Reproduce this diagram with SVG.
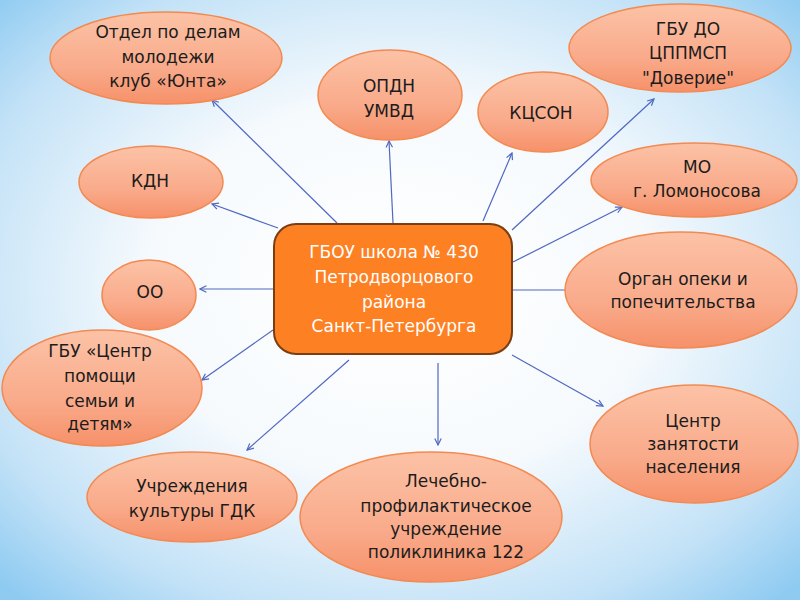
<svg xmlns="http://www.w3.org/2000/svg" width="800" height="600" viewBox="0 0 800 600">
<defs>
<radialGradient id="bg" cx="50%" cy="48%" r="70%">
<stop offset="0" stop-color="#ffffff"/>
<stop offset="0.45" stop-color="#f6fafd"/>
<stop offset="0.8" stop-color="#c3e2f7"/>
<stop offset="1" stop-color="#8fcbf1"/>
</radialGradient>
<linearGradient id="el" x1="0" y1="0" x2="0" y2="1">
<stop offset="0" stop-color="#fcc2a6"/>
<stop offset="0.6" stop-color="#f9ab8b"/>
<stop offset="1" stop-color="#f6916a"/>
</linearGradient>
<marker id="arr" viewBox="0 0 10 10" refX="9" refY="5" markerWidth="8" markerHeight="8" markerUnits="userSpaceOnUse" orient="auto">
<path d="M1,1 L9,5 L1,9" fill="none" stroke="#5068c0" stroke-width="1.5"/>
</marker>
</defs>
<style>
.node ellipse{fill:url(#el);stroke:#f28a52;stroke-width:1.5}
.node text{font-family:"DejaVu Sans","Liberation Sans",sans-serif;font-size:17px;fill:#1c1c1c;text-anchor:middle}
.conn line{stroke:#5068c0;stroke-width:1.2;marker-end:url(#arr)}
.center rect{fill:#fd8023;stroke:#7a3e12;stroke-width:2}
.center text{font-family:"DejaVu Sans","Liberation Sans",sans-serif;font-size:17px;fill:#ffffff;text-anchor:middle}
</style>
<rect x="0" y="0" width="800" height="600" fill="url(#bg)"/>
<g id="connectors" class="conn">
<line x1="337" y1="223" x2="212" y2="100"/>
<line x1="393" y1="223" x2="389" y2="141"/>
<line x1="483" y1="221" x2="512" y2="153"/>
<line x1="512" y1="230" x2="654" y2="99"/>
<line x1="513" y1="262" x2="622" y2="207"/>
<line x1="513" y1="290" x2="565" y2="290" style="marker-end:none"/>
<line x1="512" y1="355" x2="603" y2="406"/>
<line x1="438" y1="363" x2="438" y2="445"/>
<line x1="349" y1="360" x2="247" y2="450"/>
<line x1="273" y1="330" x2="202" y2="380"/>
<line x1="273" y1="289" x2="200" y2="289"/>
<line x1="278" y1="228" x2="212" y2="204"/>
</g>
<g id="center" class="center">
<rect x="274" y="224" width="238" height="130" rx="22" ry="22"/>
<text x="394" y="258">ГБОУ школа № 430</text>
<text x="394" y="283">Петродворцового</text>
<text x="394" y="308">района</text>
<text x="394" y="332">Санкт-Петербурга</text>
</g>
<g id="n-molodezh" class="node">
<ellipse cx="166" cy="58" rx="116" ry="46"/>
<text x="168" y="38">Отдел по делам</text>
<text x="168" y="63">молодежи</text>
<text x="168" y="87">клуб «Юнта»</text>
</g>
<g id="n-opdn" class="node">
<ellipse cx="390" cy="95" rx="72" ry="45"/>
<text x="389" y="92">ОПДН</text>
<text x="389" y="117">УМВД</text>
</g>
<g id="n-kcson" class="node">
<ellipse cx="543" cy="112" rx="65" ry="40"/>
<text x="541" y="119">КЦСОН</text>
</g>
<g id="n-doverie" class="node">
<ellipse cx="680" cy="48" rx="111" ry="44"/>
<text x="688" y="35">ГБУ ДО</text>
<text x="688" y="59">ЦППМСП</text>
<text x="688" y="84">"Доверие"</text>
</g>
<g id="n-mo" class="node">
<ellipse cx="694" cy="180" rx="103" ry="37"/>
<text x="697" y="173">МО</text>
<text x="697" y="197">г. Ломоносова</text>
</g>
<g id="n-kdn" class="node">
<ellipse cx="151" cy="182" rx="72" ry="36"/>
<text x="150" y="187">КДН</text>
</g>
<g id="n-oo" class="node">
<ellipse cx="149" cy="295" rx="47" ry="35"/>
<text x="150" y="298">ОО</text>
</g>
<g id="n-centr-semi" class="node">
<ellipse cx="102" cy="388" rx="100" ry="58"/>
<text x="100" y="357">ГБУ «Центр</text>
<text x="100" y="382">помощи</text>
<text x="100" y="407">семьи и</text>
<text x="100" y="430">детям»</text>
</g>
<g id="n-kultura" class="node">
<ellipse cx="192" cy="497" rx="105" ry="45"/>
<text x="192" y="492">Учреждения</text>
<text x="192" y="517">культуры ГДК</text>
</g>
<g id="n-poliklinika" class="node">
<ellipse cx="431" cy="517" rx="131" ry="65"/>
<text x="446" y="487">Лечебно-</text>
<text x="446" y="512">профилактическое</text>
<text x="446" y="535">учреждение</text>
<text x="446" y="558">поликлиника 122</text>
</g>
<g id="n-opeka" class="node">
<ellipse cx="681" cy="290" rx="116" ry="58"/>
<text x="683" y="285">Орган опеки и</text>
<text x="683" y="308">попечительства</text>
</g>
<g id="n-zanyatost" class="node">
<ellipse cx="694" cy="444" rx="104" ry="59"/>
<text x="693" y="427">Центр</text>
<text x="693" y="450">занятости</text>
<text x="693" y="473">населения</text>
</g>
</svg>
